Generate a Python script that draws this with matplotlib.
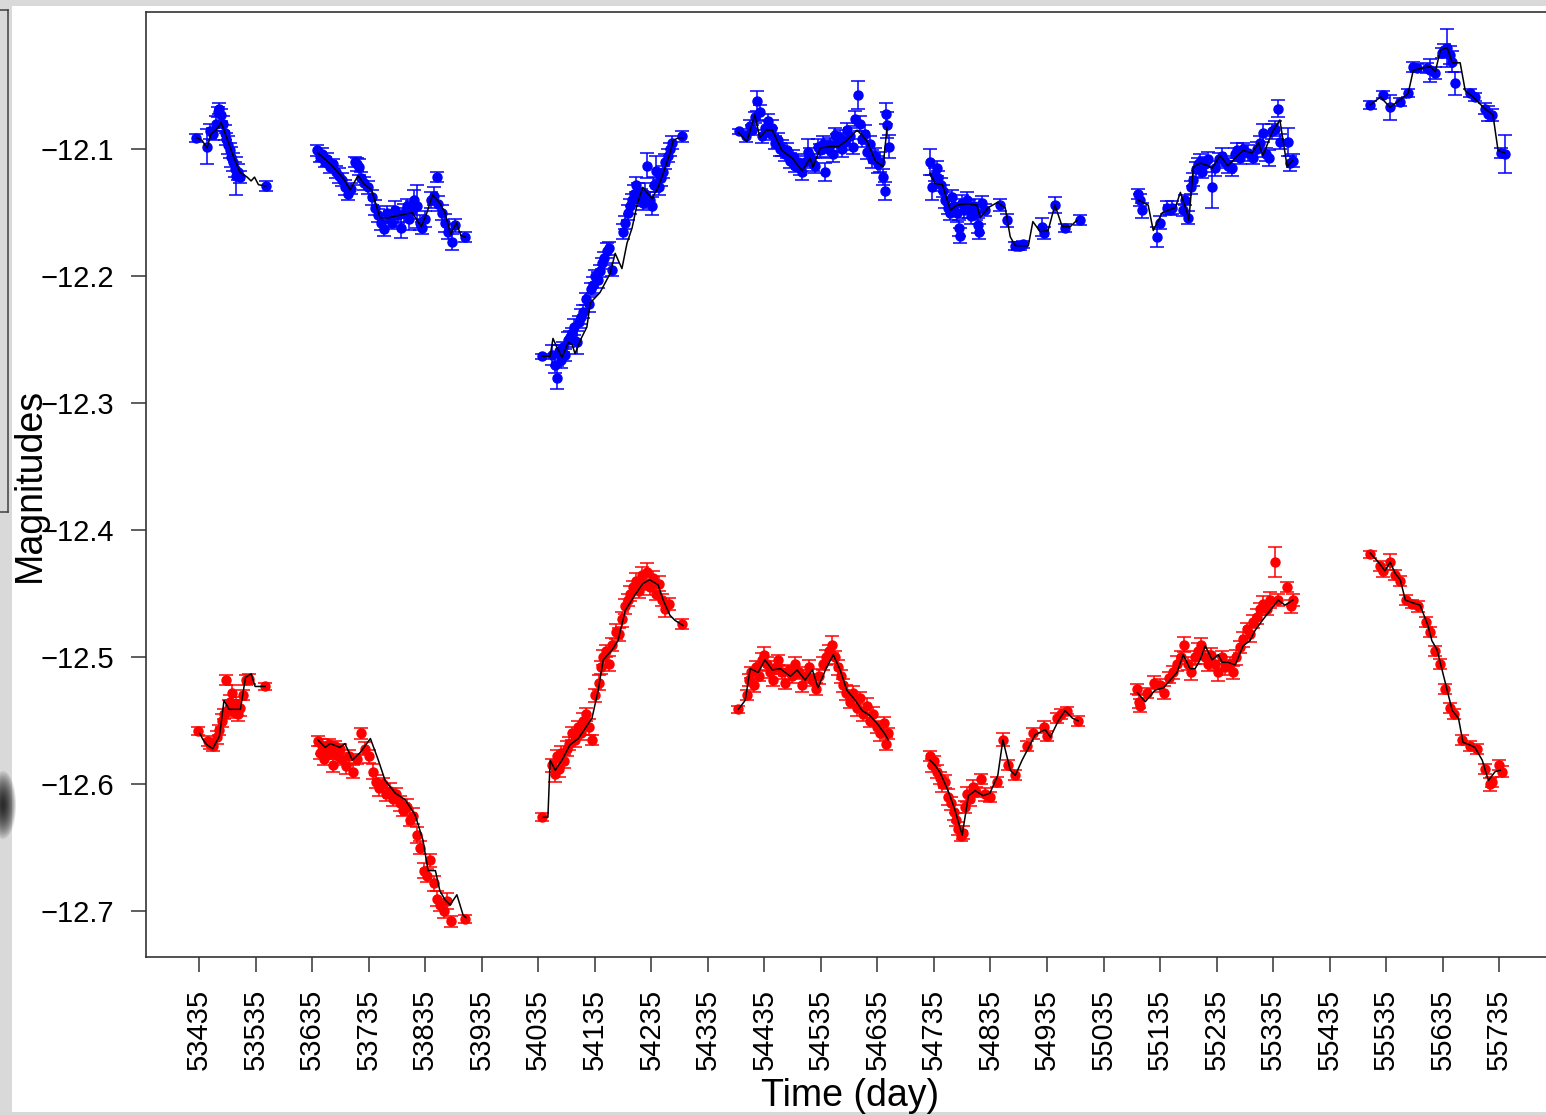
import matplotlib.pyplot as plt
import numpy as np
from matplotlib.patches import Rectangle, Ellipse
from matplotlib.lines import Line2D

plt.rcParams['font.family'] = ['Liberation Sans', 'DejaVu Sans']

# ---- blue band: observations (day, magnitude, error) per observing season ----
blue_s1 = [(53430, -12.091, 0.003), (53449, -12.098, 0.014), (53454, -12.086, 0.006), (53460, -12.088, 0.005),
           (53464, -12.080, 0.006), (53468, -12.071, 0.004), (53471, -12.068, 0.004), (53474, -12.073, 0.005),
           (53477, -12.080, 0.006), (53480, -12.087, 0.006), (53483, -12.092, 0.005), (53486, -12.097, 0.007),
           (53489, -12.101, 0.006), (53492, -12.106, 0.008), (53495, -12.110, 0.007), (53498, -12.116, 0.006),
           (53501, -12.121, 0.015), (53504, -12.118, 0.006), (53507, -12.122, 0.005), (53553, -12.129, 0.004)]
blue_s2 = [(53643, -12.101, 0.004), (53648, -12.106, 0.004), (53652, -12.104, 0.005), (53657, -12.110, 0.004),
           (53662, -12.108, 0.005), (53667, -12.114, 0.005), (53672, -12.112, 0.004), (53677, -12.118, 0.005),
           (53682, -12.121, 0.006), (53688, -12.124, 0.005), (53693, -12.130, 0.006), (53698, -12.135, 0.005),
           (53703, -12.131, 0.004), (53710, -12.110, 0.004), (53714, -12.112, 0.005), (53718, -12.114, 0.006),
           (53722, -12.123, 0.005), (53727, -12.127, 0.005), (53733, -12.130, 0.005), (53740, -12.138, 0.006),
           (53746, -12.146, 0.006), (53752, -12.152, 0.005), (53757, -12.158, 0.006), (53762, -12.163, 0.005),
           (53767, -12.150, 0.005), (53772, -12.155, 0.006), (53777, -12.158, 0.005), (53782, -12.148, 0.007),
           (53787, -12.152, 0.006), (53792, -12.162, 0.008), (53797, -12.150, 0.007), (53802, -12.145, 0.006),
           (53807, -12.155, 0.009), (53812, -12.148, 0.007), (53816, -12.140, 0.008), (53820, -12.145, 0.017),
           (53825, -12.158, 0.006), (53830, -12.162, 0.005), (53835, -12.155, 0.006), (53845, -12.140, 0.006),
           (53850, -12.137, 0.007), (53855, -12.122, 0.004), (53858, -12.143, 0.006), (53864, -12.150, 0.006),
           (53870, -12.158, 0.007), (53876, -12.165, 0.006), (53882, -12.173, 0.006), (53888, -12.160, 0.005),
           (53906, -12.169, 0.004)]
blue_s3 = [(54041, -12.263, 0.002), (54060, -12.262, 0.008), (54064, -12.270, 0.006), (54068, -12.280, 0.009),
           (54071, -12.259, 0.005), (54075, -12.266, 0.006), (54079, -12.256, 0.004), (54083, -12.262, 0.005),
           (54087, -12.250, 0.006), (54091, -12.248, 0.005), (54095, -12.245, 0.004), (54098, -12.240, 0.006),
           (54103, -12.252, 0.009), (54107, -12.236, 0.005), (54111, -12.232, 0.006), (54115, -12.228, 0.005),
           (54120, -12.218, 0.005), (54124, -12.222, 0.006), (54128, -12.210, 0.005), (54132, -12.207, 0.006),
           (54136, -12.200, 0.005), (54140, -12.203, 0.006), (54144, -12.196, 0.005), (54148, -12.190, 0.004),
           (54152, -12.186, 0.005), (54156, -12.180, 0.006), (54161, -12.178, 0.005), (54166, -12.195, 0.005),
           (54185, -12.165, 0.006), (54189, -12.158, 0.005), (54193, -12.150, 0.006), (54197, -12.145, 0.006),
           (54201, -12.140, 0.005), (54205, -12.135, 0.007), (54208, -12.128, 0.006), (54212, -12.133, 0.006),
           (54216, -12.138, 0.007), (54220, -12.142, 0.006), (54224, -12.135, 0.008), (54228, -12.113, 0.010),
           (54232, -12.140, 0.006), (54236, -12.145, 0.007), (54240, -12.128, 0.006), (54244, -12.117, 0.012),
           (54248, -12.130, 0.006), (54252, -12.123, 0.006), (54256, -12.118, 0.005), (54260, -12.110, 0.006),
           (54264, -12.105, 0.005), (54268, -12.100, 0.005), (54272, -12.095, 0.005), (54289, -12.090, 0.004)]
blue_s4 = [(54390, -12.086, 0.002), (54402, -12.090, 0.004), (54410, -12.082, 0.005), (54413, -12.085, 0.004),
           (54419, -12.075, 0.004), (54422, -12.062, 0.008), (54427, -12.071, 0.006), (54431, -12.090, 0.005),
           (54436, -12.083, 0.005), (54442, -12.078, 0.006), (54446, -12.088, 0.005), (54449, -12.083, 0.006),
           (54454, -12.095, 0.005), (54459, -12.093, 0.006), (54463, -12.100, 0.005), (54466, -12.099, 0.006),
           (54471, -12.104, 0.005), (54475, -12.101, 0.006), (54481, -12.109, 0.006), (54485, -12.106, 0.005),
           (54489, -12.113, 0.005), (54494, -12.110, 0.006), (54498, -12.115, 0.005), (54502, -12.118, 0.006),
           (54507, -12.110, 0.005), (54512, -12.102, 0.010), (54516, -12.105, 0.006), (54521, -12.112, 0.005),
           (54525, -12.113, 0.006), (54530, -12.098, 0.006), (54534, -12.101, 0.005), (54539, -12.096, 0.006),
           (54543, -12.118, 0.007), (54547, -12.100, 0.007), (54551, -12.097, 0.006), (54556, -12.104, 0.006),
           (54560, -12.089, 0.006), (54564, -12.095, 0.007), (54569, -12.091, 0.006), (54573, -12.100, 0.006),
           (54578, -12.094, 0.007), (54582, -12.085, 0.006), (54587, -12.090, 0.007), (54591, -12.098, 0.006),
           (54596, -12.076, 0.006), (54601, -12.057, 0.011), (54604, -12.080, 0.006), (54608, -12.092, 0.006),
           (54613, -12.088, 0.007), (54617, -12.102, 0.006), (54622, -12.096, 0.006), (54626, -12.108, 0.007),
           (54631, -12.105, 0.006), (54636, -12.112, 0.007), (54640, -12.110, 0.008), (54645, -12.122, 0.006),
           (54648, -12.133, 0.007), (54650, -12.072, 0.008), (54652, -12.081, 0.010), (54655, -12.098, 0.009)]
blue_s5 = [(54728, -12.110, 0.010), (54732, -12.130, 0.010), (54736, -12.120, 0.005), (54740, -12.115, 0.006),
           (54743, -12.123, 0.006), (54747, -12.128, 0.005), (54751, -12.133, 0.005), (54755, -12.140, 0.006),
           (54759, -12.146, 0.005), (54763, -12.150, 0.006), (54767, -12.138, 0.006), (54771, -12.145, 0.006),
           (54775, -12.150, 0.007), (54779, -12.162, 0.006), (54781, -12.168, 0.006), (54785, -12.142, 0.006),
           (54789, -12.148, 0.006), (54793, -12.140, 0.006), (54797, -12.147, 0.007), (54801, -12.153, 0.006),
           (54805, -12.145, 0.006), (54809, -12.150, 0.006), (54813, -12.160, 0.006), (54815, -12.165, 0.006),
           (54820, -12.142, 0.005), (54825, -12.148, 0.005), (54852, -12.144, 0.005), (54865, -12.156, 0.005),
           (54879, -12.176, 0.003), (54884, -12.176, 0.003), (54888, -12.176, 0.003), (54893, -12.175, 0.003),
           (54927, -12.161, 0.007), (54930, -12.166, 0.005), (54949, -12.144, 0.006), (54967, -12.162, 0.003),
           (54994, -12.156, 0.004)]
blue_s6 = [(55096, -12.135, 0.004), (55100, -12.140, 0.005), (55103, -12.148, 0.006), (55130, -12.169, 0.008),
           (55135, -12.158, 0.005), (55148, -12.146, 0.005), (55153, -12.148, 0.004), (55157, -12.146, 0.005),
           (55175, -12.148, 0.005), (55179, -12.140, 0.004), (55185, -12.154, 0.005), (55190, -12.130, 0.005),
           (55194, -12.124, 0.005), (55198, -12.116, 0.006), (55202, -12.112, 0.005), (55206, -12.110, 0.006),
           (55210, -12.118, 0.005), (55215, -12.112, 0.006), (55220, -12.108, 0.006), (55227, -12.130, 0.016),
           (55233, -12.115, 0.006), (55239, -12.108, 0.005), (55245, -12.105, 0.006), (55250, -12.110, 0.005),
           (55256, -12.113, 0.006), (55263, -12.115, 0.006), (55267, -12.104, 0.005), (55271, -12.101, 0.006),
           (55277, -12.107, 0.005), (55282, -12.100, 0.005), (55290, -12.103, 0.006), (55300, -12.107, 0.005),
           (55306, -12.100, 0.006), (55312, -12.095, 0.005), (55318, -12.087, 0.007), (55322, -12.104, 0.005),
           (55327, -12.107, 0.006), (55333, -12.086, 0.006), (55339, -12.084, 0.006), (55344, -12.068, 0.007),
           (55347, -12.094, 0.006), (55362, -12.094, 0.011), (55365, -12.111, 0.006), (55370, -12.109, 0.005)]
blue_s7 = [(55507, -12.065, 0.003), (55530, -12.057, 0.003), (55542, -12.067, 0.010), (55560, -12.063, 0.003),
           (55574, -12.056, 0.003), (55583, -12.035, 0.004), (55590, -12.036, 0.003), (55608, -12.036, 0.004),
           (55613, -12.038, 0.009), (55622, -12.040, 0.005), (55634, -12.024, 0.004), (55638, -12.022, 0.005),
           (55643, -12.020, 0.015), (55648, -12.026, 0.007), (55652, -12.031, 0.008), (55657, -12.048, 0.009),
           (55683, -12.056, 0.003), (55692, -12.059, 0.003), (55710, -12.068, 0.004), (55715, -12.072, 0.006),
           (55722, -12.073, 0.005), (55739, -12.103, 0.004), (55745, -12.104, 0.015)]

# ---- blue band: model curve (day, magnitude) per season ----
blue_fit_s1 = [(53431, -12.091), (53440, -12.093), (53449, -12.099), (53456, -12.088), (53465, -12.085),
               (53474, -12.079), (53483, -12.090), (53495, -12.105), (53507, -12.118), (53520, -12.122),
               (53527, -12.125), (53533, -12.122), (53540, -12.128), (53553, -12.129)]
blue_fit_s2 = [(53645, -12.103), (53668, -12.112), (53690, -12.123), (53702, -12.132), (53716, -12.121),
               (53728, -12.128), (53740, -12.132), (53755, -12.154), (53770, -12.154), (53790, -12.152),
               (53812, -12.150), (53828, -12.161), (53838, -12.150), (53848, -12.136), (53860, -12.142),
               (53870, -12.150), (53880, -12.167), (53890, -12.158), (53898, -12.168), (53906, -12.169)]
blue_fit_s3 = [(54042, -12.263), (54056, -12.263), (54061, -12.249), (54068, -12.256), (54077, -12.264),
               (54088, -12.252), (54095, -12.254), (54100, -12.261), (54112, -12.248), (54121, -12.240),
               (54127, -12.221), (54144, -12.213), (54162, -12.198), (54171, -12.182), (54183, -12.194),
               (54192, -12.174), (54201, -12.162), (54210, -12.143), (54220, -12.130), (54236, -12.139),
               (54247, -12.130), (54256, -12.119), (54268, -12.103), (54274, -12.093), (54283, -12.091),
               (54291, -12.091)]
blue_fit_s4 = [(54389, -12.087), (54404, -12.094), (54418, -12.073), (54427, -12.091), (54438, -12.085),
               (54449, -12.085), (54466, -12.101), (54484, -12.107), (54502, -12.117), (54516, -12.107),
               (54521, -12.114), (54534, -12.099), (54551, -12.098), (54566, -12.098), (54581, -12.093),
               (54599, -12.085), (54608, -12.089), (54617, -12.094), (54631, -12.109), (54645, -12.114),
               (54652, -12.083)]
blue_fit_s5 = [(54728, -12.119), (54737, -12.127), (54750, -12.128), (54764, -12.148), (54776, -12.144),
               (54794, -12.143), (54811, -12.144), (54817, -12.154), (54831, -12.146), (54847, -12.142),
               (54861, -12.146), (54870, -12.169), (54879, -12.176), (54902, -12.176), (54910, -12.157),
               (54923, -12.165), (54937, -12.164), (54949, -12.144), (54962, -12.161), (54976, -12.161),
               (54988, -12.156)]
blue_fit_s6 = [(55096, -12.140), (55114, -12.144), (55123, -12.164), (55139, -12.150), (55162, -12.146),
               (55171, -12.134), (55183, -12.150), (55186, -12.156), (55194, -12.114), (55206, -12.111),
               (55220, -12.113), (55227, -12.115), (55241, -12.105), (55255, -12.113), (55268, -12.107),
               (55282, -12.101), (55298, -12.103), (55309, -12.095), (55317, -12.105), (55333, -12.087),
               (55347, -12.077), (55360, -12.114), (55369, -12.109)]
blue_fit_s7 = [(55507, -12.065), (55525, -12.059), (55542, -12.067), (55560, -12.061), (55574, -12.056),
               (55583, -12.038), (55600, -12.036), (55613, -12.035), (55622, -12.039), (55631, -12.022),
               (55643, -12.020), (55652, -12.032), (55666, -12.032), (55675, -12.054), (55689, -12.059),
               (55707, -12.067), (55724, -12.073), (55733, -12.101), (55745, -12.103)]

# ---- red band: observations (day, magnitude, error) ----
red_s1 = [(53433, -12.558, 0.003), (53450, -12.566, 0.004), (53455, -12.568, 0.004), (53460, -12.570, 0.004),
          (53466, -12.563, 0.005), (53470, -12.557, 0.004), (53475, -12.550, 0.005), (53479, -12.545, 0.004),
          (53483, -12.518, 0.004), (53487, -12.540, 0.006), (53490, -12.535, 0.005), (53493, -12.528, 0.006),
          (53497, -12.543, 0.005), (53500, -12.537, 0.006), (53504, -12.545, 0.005), (53508, -12.540, 0.006),
          (53513, -12.530, 0.004), (53518, -12.518, 0.004), (53524, -12.517, 0.004), (53552, -12.523, 0.003)]
red_s2 = [(53645, -12.566, 0.004), (53648, -12.575, 0.005), (53652, -12.570, 0.006), (53656, -12.580, 0.005),
          (53660, -12.572, 0.005), (53664, -12.568, 0.004), (53668, -12.575, 0.005), (53672, -12.585, 0.005),
          (53676, -12.570, 0.004), (53680, -12.578, 0.005), (53684, -12.572, 0.004), (53688, -12.580, 0.005),
          (53694, -12.586, 0.006), (53700, -12.578, 0.005), (53708, -12.590, 0.005), (53715, -12.580, 0.004),
          (53722, -12.560, 0.004), (53728, -12.572, 0.005), (53735, -12.578, 0.005), (53742, -12.590, 0.006),
          (53748, -12.598, 0.005), (53754, -12.603, 0.006), (53760, -12.600, 0.005), (53766, -12.608, 0.005),
          (53772, -12.605, 0.006), (53778, -12.612, 0.005), (53784, -12.608, 0.005), (53790, -12.615, 0.006),
          (53796, -12.620, 0.005), (53802, -12.618, 0.006), (53808, -12.628, 0.005), (53814, -12.625, 0.006),
          (53820, -12.640, 0.006), (53826, -12.650, 0.005), (53832, -12.668, 0.006), (53838, -12.672, 0.005),
          (53844, -12.660, 0.005), (53850, -12.678, 0.006), (53856, -12.690, 0.006), (53862, -12.695, 0.005),
          (53868, -12.700, 0.005), (53874, -12.692, 0.006), (53880, -12.708, 0.004), (53906, -12.706, 0.003)]
red_s3 = [(54041, -12.626, 0.003), (54060, -12.585, 0.005), (54064, -12.592, 0.006), (54068, -12.578, 0.005),
          (54072, -12.588, 0.006), (54076, -12.575, 0.005), (54080, -12.582, 0.005), (54085, -12.572, 0.006),
          (54090, -12.568, 0.005), (54095, -12.560, 0.005), (54100, -12.565, 0.006), (54105, -12.555, 0.005),
          (54110, -12.560, 0.005), (54115, -12.550, 0.006), (54120, -12.545, 0.005), (54125, -12.555, 0.006),
          (54130, -12.565, 0.004), (54136, -12.530, 0.005), (54142, -12.520, 0.006), (54146, -12.508, 0.005),
          (54150, -12.500, 0.006), (54155, -12.495, 0.005), (54160, -12.505, 0.006), (54166, -12.490, 0.005),
          (54172, -12.480, 0.006), (54178, -12.482, 0.005), (54183, -12.470, 0.006), (54188, -12.460, 0.006),
          (54193, -12.455, 0.005), (54198, -12.450, 0.006), (54203, -12.445, 0.005), (54208, -12.440, 0.006),
          (54213, -12.448, 0.005), (54218, -12.435, 0.006), (54223, -12.442, 0.005), (54228, -12.433, 0.007),
          (54233, -12.445, 0.006), (54238, -12.438, 0.006), (54243, -12.450, 0.005), (54248, -12.442, 0.006),
          (54254, -12.455, 0.005), (54260, -12.462, 0.006), (54266, -12.458, 0.005), (54290, -12.474, 0.004)]
red_s4 = [(54389, -12.541, 0.003), (54404, -12.530, 0.004), (54408, -12.518, 0.005), (54412, -12.512, 0.004),
          (54416, -12.522, 0.005), (54420, -12.508, 0.005), (54425, -12.515, 0.004), (54430, -12.502, 0.005),
          (54435, -12.498, 0.006), (54440, -12.505, 0.005), (54445, -12.512, 0.004), (54450, -12.518, 0.005),
          (54455, -12.508, 0.005), (54460, -12.502, 0.004), (54466, -12.512, 0.005), (54472, -12.520, 0.005),
          (54478, -12.510, 0.004), (54484, -12.515, 0.005), (54490, -12.505, 0.005), (54496, -12.512, 0.004),
          (54502, -12.522, 0.005), (54508, -12.515, 0.005), (54514, -12.508, 0.006), (54520, -12.518, 0.005),
          (54526, -12.525, 0.005), (54532, -12.515, 0.006), (54538, -12.505, 0.005), (54544, -12.500, 0.006),
          (54550, -12.495, 0.005), (54555, -12.490, 0.007), (54560, -12.500, 0.005), (54565, -12.508, 0.006),
          (54570, -12.515, 0.005), (54575, -12.522, 0.005), (54580, -12.528, 0.006), (54586, -12.535, 0.005),
          (54592, -12.528, 0.005), (54598, -12.540, 0.006), (54604, -12.532, 0.005), (54610, -12.545, 0.005),
          (54616, -12.538, 0.006), (54622, -12.550, 0.005), (54628, -12.545, 0.006), (54634, -12.555, 0.005),
          (54640, -12.560, 0.006), (54646, -12.552, 0.005), (54650, -12.568, 0.005), (54654, -12.560, 0.004)]
red_s5 = [(54728, -12.578, 0.004), (54731, -12.585, 0.005), (54735, -12.582, 0.004), (54740, -12.590, 0.005),
          (54745, -12.595, 0.005), (54750, -12.600, 0.006), (54755, -12.598, 0.005), (54760, -12.610, 0.006),
          (54765, -12.615, 0.005), (54770, -12.622, 0.006), (54774, -12.628, 0.005), (54778, -12.635, 0.005),
          (54782, -12.641, 0.004), (54786, -12.638, 0.005), (54790, -12.618, 0.005), (54794, -12.608, 0.006),
          (54799, -12.612, 0.005), (54804, -12.602, 0.005), (54810, -12.606, 0.004), (54818, -12.596, 0.004),
          (54826, -12.608, 0.005), (54834, -12.610, 0.004), (54846, -12.598, 0.004), (54857, -12.565, 0.005),
          (54866, -12.585, 0.004), (54878, -12.593, 0.004), (54900, -12.570, 0.004), (54910, -12.560, 0.004),
          (54930, -12.555, 0.005), (54935, -12.562, 0.004), (54952, -12.548, 0.004), (54960, -12.545, 0.004),
          (54970, -12.542, 0.003), (54990, -12.550, 0.004)]
red_s6 = [(55095, -12.525, 0.004), (55097, -12.535, 0.005), (55100, -12.538, 0.005), (55112, -12.528, 0.004),
          (55125, -12.520, 0.005), (55135, -12.522, 0.005), (55142, -12.528, 0.005), (55150, -12.516, 0.004),
          (55158, -12.512, 0.005), (55165, -12.505, 0.006), (55172, -12.500, 0.005), (55178, -12.490, 0.006),
          (55184, -12.505, 0.005), (55190, -12.512, 0.006), (55196, -12.500, 0.005), (55202, -12.495, 0.006),
          (55208, -12.490, 0.005), (55214, -12.500, 0.005), (55220, -12.505, 0.006), (55226, -12.498, 0.005),
          (55232, -12.505, 0.005), (55238, -12.512, 0.007), (55244, -12.500, 0.005), (55250, -12.508, 0.006),
          (55258, -12.505, 0.005), (55264, -12.512, 0.005), (55270, -12.500, 0.006), (55276, -12.492, 0.005),
          (55282, -12.486, 0.006), (55288, -12.478, 0.005), (55294, -12.482, 0.006), (55300, -12.472, 0.005),
          (55306, -12.468, 0.006), (55312, -12.462, 0.005), (55318, -12.458, 0.006), (55324, -12.462, 0.005),
          (55330, -12.455, 0.006), (55338, -12.425, 0.012), (55344, -12.455, 0.005), (55360, -12.445, 0.004),
          (55366, -12.460, 0.005), (55370, -12.455, 0.005)]
red_s7 = [(55507, -12.419, 0.003), (55525, -12.428, 0.004), (55530, -12.432, 0.005), (55542, -12.425, 0.006),
          (55550, -12.435, 0.004), (55560, -12.440, 0.004), (55570, -12.455, 0.004), (55580, -12.458, 0.003),
          (55592, -12.460, 0.004), (55606, -12.472, 0.004), (55612, -12.480, 0.004), (55622, -12.495, 0.004),
          (55630, -12.505, 0.004), (55640, -12.525, 0.004), (55648, -12.540, 0.004), (55655, -12.545, 0.004),
          (55670, -12.565, 0.004), (55684, -12.570, 0.004), (55695, -12.572, 0.004), (55710, -12.588, 0.004),
          (55718, -12.600, 0.005), (55722, -12.598, 0.004), (55735, -12.585, 0.004), (55740, -12.590, 0.004)]

# ---- red band: model curve ----
red_fit_s1 = [(53436, -12.560), (53442, -12.565), (53449, -12.569), (53459, -12.572), (53471, -12.562),
              (53479, -12.534), (53488, -12.541), (53508, -12.541), (53517, -12.516), (53527, -12.513),
              (53534, -12.523), (53552, -12.523)]
red_fit_s2 = [(53645, -12.565), (53658, -12.571), (53667, -12.568), (53684, -12.571), (53693, -12.568),
              (53706, -12.581), (53720, -12.575), (53738, -12.564), (53752, -12.581), (53764, -12.597),
              (53782, -12.607), (53799, -12.612), (53817, -12.624), (53831, -12.644), (53840, -12.668),
              (53853, -12.668), (53861, -12.684), (53870, -12.691), (53879, -12.695), (53891, -12.687),
              (53902, -12.703), (53907, -12.705)]
red_fit_s3 = [(54044, -12.626), (54052, -12.626), (54056, -12.581), (54065, -12.589), (54077, -12.581),
              (54091, -12.569), (54106, -12.564), (54118, -12.556), (54130, -12.548), (54141, -12.526),
              (54150, -12.502), (54166, -12.494), (54176, -12.487), (54189, -12.463), (54206, -12.451),
              (54220, -12.442), (54232, -12.439), (54247, -12.443), (54256, -12.455), (54268, -12.467),
              (54277, -12.471), (54291, -12.475)]
red_fit_s4 = [(54389, -12.541), (54401, -12.534), (54410, -12.509), (54424, -12.512), (54436, -12.502),
              (54449, -12.510), (54463, -12.509), (54481, -12.515), (54493, -12.510), (54507, -12.518),
              (54520, -12.510), (54530, -12.524), (54544, -12.509), (54557, -12.498), (54569, -12.510),
              (54581, -12.526), (54596, -12.534), (54608, -12.542), (54622, -12.546), (54636, -12.553),
              (54649, -12.561), (54654, -12.565)]
red_fit_s5 = [(54728, -12.581), (54737, -12.585), (54746, -12.591), (54760, -12.605), (54772, -12.620),
              (54785, -12.640), (54796, -12.609), (54808, -12.605), (54822, -12.609), (54834, -12.607),
              (54848, -12.593), (54857, -12.565), (54870, -12.589), (54879, -12.593), (54891, -12.581),
              (54905, -12.569), (54914, -12.561), (54932, -12.557), (54941, -12.563), (54955, -12.550),
              (54967, -12.542), (54980, -12.548), (54990, -12.550)]
red_fit_s6 = [(55095, -12.528), (55109, -12.535), (55126, -12.526), (55141, -12.524), (55153, -12.518),
              (55165, -12.512), (55176, -12.498), (55188, -12.509), (55197, -12.509), (55206, -12.502),
              (55215, -12.491), (55227, -12.502), (55238, -12.498), (55245, -12.504), (55255, -12.504),
              (55268, -12.506), (55282, -12.491), (55294, -12.487), (55303, -12.479), (55316, -12.471),
              (55330, -12.463), (55344, -12.455), (55356, -12.459), (55370, -12.455)]
red_fit_s7 = [(55507, -12.418), (55521, -12.425), (55533, -12.432), (55542, -12.425), (55551, -12.434),
              (55560, -12.439), (55569, -12.455), (55581, -12.457), (55595, -12.459), (55609, -12.475),
              (55616, -12.487), (55625, -12.494), (55634, -12.510), (55643, -12.526), (55652, -12.542),
              (55663, -12.548), (55671, -12.567), (55683, -12.569), (55692, -12.571), (55705, -12.581),
              (55716, -12.597), (55728, -12.590), (55737, -12.589)]

blue_seasons = [blue_s1, blue_s2, blue_s3, blue_s4, blue_s5, blue_s6, blue_s7]
red_seasons = [red_s1, red_s2, red_s3, red_s4, red_s5, red_s6, red_s7]
blue_fits = [blue_fit_s1, blue_fit_s2, blue_fit_s3, blue_fit_s4, blue_fit_s5, blue_fit_s6, blue_fit_s7]
red_fits = [red_fit_s1, red_fit_s2, red_fit_s3, red_fit_s4, red_fit_s5, red_fit_s6, red_fit_s7]

x_ticks = np.arange(53435, 55736, 100)
y_ticks = [-12.1, -12.2, -12.3, -12.4, -12.5, -12.6, -12.7]

W, H = 1546, 1115
fig = plt.figure(figsize=(W / 100, H / 100), dpi=100)
fig.patch.set_facecolor('#d9d9d9')

# white page with a thin scanned border on the left
fig.add_artist(Rectangle((12 / W, 3 / H), (W - 12) / W, (H - 9) / H, transform=fig.transFigure,
                         facecolor='white', edgecolor='none', zorder=0))
for xs, ys in [([8, 8], [10, 512]), ([0, 8], [512, 512]), ([0, 8], [10, 10])]:
    fig.add_artist(Line2D([v / W for v in xs], [1 - v / H for v in ys], transform=fig.transFigure,
                          color='#404040', lw=1.1))
# soft dark smudge in the left margin
for r in np.linspace(26, 3, 14):
    fig.add_artist(Ellipse((3 / W, 1 - 805 / H), 1.0 * r / W, 2.6 * r / H, transform=fig.transFigure,
                           facecolor='black', edgecolor='none', alpha=0.1, zorder=1))

ax = fig.add_axes([146 / W, 158 / H, 1408 / W, 945 / H])

for obs in blue_seasons:
    t, m, e = zip(*obs)
    ax.errorbar(t, m, yerr=e, fmt='o', color='#0000ff', ms=6.5, capsize=5,
                elinewidth=1.1, capthick=1.1, zorder=2)
for obs in red_seasons:
    t, m, e = zip(*obs)
    ax.errorbar(t, m, yerr=e, fmt='o', color='#ff0000', ms=6.5, capsize=5,
                elinewidth=1.1, capthick=1.1, zorder=2)
for fit in blue_fits + red_fits:
    t, m = zip(*fit)
    ax.plot(t, m, color='black', lw=1.1, zorder=3)

ax.set_xlim(53341, 55832)
ax.set_ylim(-12.736, -11.992)
ax.set_xticks(x_ticks)
ax.set_xticklabels([str(v) for v in x_ticks], rotation=90)
ax.set_yticks(y_ticks)
ax.tick_params(direction='out', length=11, width=1.1, pad=12, labelsize=21, color='#333333')
for s in ax.spines.values():
    s.set_linewidth(1.2)
    s.set_color('#333333')

ax.set_xlabel('Time (day)', fontsize=27, va='center')
ax.xaxis.set_label_coords(0.5, -0.147)
ax.set_ylabel('Magnitudes', fontsize=27, va='center', ha='center')
ax.yaxis.set_label_coords(-0.0824, 0.5)

fig.savefig('out.png', dpi=100, facecolor=fig.get_facecolor())
